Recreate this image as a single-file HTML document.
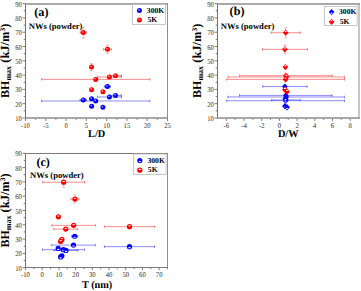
<!DOCTYPE html><html><head><meta charset="utf-8"><style>html,body{margin:0;padding:0;background:#fff;width:361px;height:291px;overflow:hidden}svg{display:block}text{font-family:"Liberation Serif", serif;text-rendering:geometricPrecision}.tl{font-size:7.4px;fill:#2a2a2a}.yl{font-size:12px;font-weight:bold;fill:#000}.yl .sub{font-size:8px}.yl .sup{font-size:7.3px}.yl .ku{font-size:12.5px}.xl{font-size:10.3px;font-weight:bold;fill:#000}.pl{font-size:12.2px;font-weight:bold;fill:#000}.nw{font-size:8.6px;font-weight:bold;fill:#000}.lg{font-size:7.7px;font-weight:bold;fill:#000}</style></head><body><svg width="361" height="291" viewBox="0 0 361 291">
<path d="M25.5 3.3V118.7" stroke="#707070" stroke-width="1"/>
<path d="M167.5 3.3V118.7" stroke="#909090" stroke-width="1"/>
<path d="M25 4H168" stroke="#8c8c8c" stroke-width="1.4"/>
<path d="M25 118H168" stroke="#8c8c8c" stroke-width="1.4"/>
<path d="M22.6 118H25M22.6 103.7H25M22.6 89.4H25M22.6 75.1H25M22.6 60.8H25M22.6 46.5H25M22.6 32.2H25M22.6 17.9H25M22.6 3.6H25M23.7 110.85H25M23.7 96.55H25M23.7 82.25H25M23.7 67.95H25M23.7 53.65H25M23.7 39.35H25M23.7 25.05H25M23.7 10.75H25" stroke="#7a7a7a" stroke-width="1" fill="none"/>
<path d="M25.5 118.7V120.9M45.79 118.7V120.9M66.07 118.7V120.9M86.36 118.7V120.9M106.64 118.7V120.9M126.93 118.7V120.9M147.21 118.7V120.9M167.5 118.7V120.9M35.64 118.7V119.9M55.93 118.7V119.9M76.21 118.7V119.9M96.5 118.7V119.9M116.79 118.7V119.9M137.07 118.7V119.9M157.36 118.7V119.9" stroke="#7a7a7a" stroke-width="1" fill="none"/>
<text transform="translate(21.9,121) scale(0.9,1)" text-anchor="end" class="tl">10</text>
<text transform="translate(21.9,106.7) scale(0.9,1)" text-anchor="end" class="tl">20</text>
<text transform="translate(21.9,92.4) scale(0.9,1)" text-anchor="end" class="tl">30</text>
<text transform="translate(21.9,78.1) scale(0.9,1)" text-anchor="end" class="tl">40</text>
<text transform="translate(21.9,63.8) scale(0.9,1)" text-anchor="end" class="tl">50</text>
<text transform="translate(21.9,49.5) scale(0.9,1)" text-anchor="end" class="tl">60</text>
<text transform="translate(21.9,35.2) scale(0.9,1)" text-anchor="end" class="tl">70</text>
<text transform="translate(21.9,20.9) scale(0.9,1)" text-anchor="end" class="tl">80</text>
<text transform="translate(21.9,6.6) scale(0.9,1)" text-anchor="end" class="tl">90</text>
<text transform="translate(25.5,127.5) scale(0.9,1)" text-anchor="middle" class="tl">-10</text>
<text transform="translate(45.79,127.5) scale(0.9,1)" text-anchor="middle" class="tl">-5</text>
<text transform="translate(66.07,127.5) scale(0.9,1)" text-anchor="middle" class="tl">0</text>
<text transform="translate(86.36,127.5) scale(0.9,1)" text-anchor="middle" class="tl">5</text>
<text transform="translate(106.64,127.5) scale(0.9,1)" text-anchor="middle" class="tl">10</text>
<text transform="translate(126.93,127.5) scale(0.9,1)" text-anchor="middle" class="tl">15</text>
<text transform="translate(147.21,127.5) scale(0.9,1)" text-anchor="middle" class="tl">20</text>
<text transform="translate(167.5,127.5) scale(0.9,1)" text-anchor="middle" class="tl">25</text>
<text transform="translate(9,60.8) rotate(-90)" text-anchor="middle" class="yl">BH<tspan class="sub" dy="2.2">max</tspan><tspan dy="-2.2" class="ku"> (kJ/m</tspan><tspan class="sup" dy="-4.2">3</tspan><tspan dy="4.2" class="ku">)</tspan></text>
<text x="96.7" y="137.0" text-anchor="middle" class="xl">L/D</text>
<text x="34.3" y="16.1" class="pl">(a)</text>
<text x="28.7" y="28.8" class="nw">NWs (powder)</text>
<path d="M80.2 32.56H86.4M80.2 31.26V33.86M86.4 31.26V33.86" stroke="#ff0000" stroke-width="1.0" stroke-opacity="0.45" fill="none"/>
<path d="M83.3 27.16V37.96M82 27.16H84.6M82 37.96H84.6" stroke="#ff0000" stroke-width="1.0" stroke-opacity="0.3" fill="none"/>
<path d="M91.5 63.59V70.59M90.2 63.59H92.8M90.2 70.59H92.8" stroke="#ff0000" stroke-width="1.0" stroke-opacity="0.3" fill="none"/>
<path d="M41.55 79.39H149.85M41.55 78.09V80.69M149.85 78.09V80.69" stroke="#ff0000" stroke-width="1.0" stroke-opacity="0.45" fill="none"/>
<path d="M103.6 49.36H111.3M103.6 48.06V50.66M111.3 48.06V50.66" stroke="#ff0000" stroke-width="1.0" stroke-opacity="0.45" fill="none"/>
<path d="M107.45 45.26V53.46M106.15 45.26H108.75M106.15 53.46H108.75" stroke="#ff0000" stroke-width="1.0" stroke-opacity="0.3" fill="none"/>
<path d="M97.3 76.96H121.5M97.3 75.66V78.26M121.5 75.66V78.26" stroke="#ff0000" stroke-width="1.0" stroke-opacity="0.45" fill="none"/>
<path d="M109.7 75.67H121.3M109.7 74.37V76.97M121.3 74.37V76.97" stroke="#ff0000" stroke-width="1.0" stroke-opacity="0.45" fill="none"/>
<path d="M80 99.98H86.6M80 98.68V101.28M86.6 98.68V101.28" stroke="#0000ff" stroke-width="1.0" stroke-opacity="0.45" fill="none"/>
<path d="M41.55 100.98H149.85M41.55 99.68V102.28M149.85 99.68V102.28" stroke="#0000ff" stroke-width="1.0" stroke-opacity="0.45" fill="none"/>
<path d="M104.3 86.54H110.5M104.3 85.24V87.84M110.5 85.24V87.84" stroke="#0000ff" stroke-width="1.0" stroke-opacity="0.45" fill="none"/>
<path d="M97.3 96.98H121.5M97.3 95.68V98.28M121.5 95.68V98.28" stroke="#0000ff" stroke-width="1.0" stroke-opacity="0.45" fill="none"/>
<path d="M109.7 95.41H121.3M109.7 94.11V96.71M121.3 94.11V96.71" stroke="#0000ff" stroke-width="1.0" stroke-opacity="0.45" fill="none"/>
<circle cx="83.3" cy="99.98" r="2.5" fill="#0000ff"/>
<circle cx="82.8" cy="99.38" r="0.8" fill="#fff" fill-opacity="0.7"/>
<circle cx="91.6" cy="98.69" r="2.5" fill="#0000ff"/>
<circle cx="91.1" cy="98.09" r="0.8" fill="#fff" fill-opacity="0.7"/>
<circle cx="91.6" cy="106.13" r="2.5" fill="#0000ff"/>
<circle cx="91.1" cy="105.53" r="0.8" fill="#fff" fill-opacity="0.7"/>
<circle cx="95.7" cy="100.98" r="2.5" fill="#0000ff"/>
<circle cx="95.2" cy="100.38" r="0.8" fill="#fff" fill-opacity="0.7"/>
<circle cx="102.9" cy="107.28" r="2.5" fill="#0000ff"/>
<circle cx="102.4" cy="106.68" r="0.8" fill="#fff" fill-opacity="0.7"/>
<circle cx="107.4" cy="86.54" r="2.5" fill="#0000ff"/>
<circle cx="106.9" cy="85.94" r="0.8" fill="#fff" fill-opacity="0.7"/>
<circle cx="109.4" cy="96.98" r="2.5" fill="#0000ff"/>
<circle cx="108.9" cy="96.38" r="0.8" fill="#fff" fill-opacity="0.7"/>
<circle cx="115.5" cy="95.41" r="2.5" fill="#0000ff"/>
<circle cx="115" cy="94.81" r="0.8" fill="#fff" fill-opacity="0.7"/>
<circle cx="83.3" cy="32.56" r="2.5" fill="#ff0000"/>
<circle cx="82.8" cy="31.96" r="0.8" fill="#fff" fill-opacity="0.7"/>
<circle cx="91.5" cy="67.09" r="2.5" fill="#ff0000"/>
<circle cx="91" cy="66.49" r="0.8" fill="#fff" fill-opacity="0.7"/>
<circle cx="91.6" cy="89.69" r="2.5" fill="#ff0000"/>
<circle cx="91.1" cy="89.09" r="0.8" fill="#fff" fill-opacity="0.7"/>
<circle cx="95.7" cy="79.39" r="2.5" fill="#ff0000"/>
<circle cx="95.2" cy="78.79" r="0.8" fill="#fff" fill-opacity="0.7"/>
<circle cx="102.9" cy="91.69" r="2.5" fill="#ff0000"/>
<circle cx="102.4" cy="91.09" r="0.8" fill="#fff" fill-opacity="0.7"/>
<circle cx="107.45" cy="49.36" r="2.5" fill="#ff0000"/>
<circle cx="106.95" cy="48.76" r="0.8" fill="#fff" fill-opacity="0.7"/>
<circle cx="109.4" cy="76.96" r="2.5" fill="#ff0000"/>
<circle cx="108.9" cy="76.36" r="0.8" fill="#fff" fill-opacity="0.7"/>
<circle cx="115.5" cy="75.67" r="2.5" fill="#ff0000"/>
<circle cx="115" cy="75.07" r="0.8" fill="#fff" fill-opacity="0.7"/>
<rect x="132.5" y="4.5" width="33" height="20" fill="#fff" stroke="#bbb" stroke-width="0.8"/>
<circle cx="139.4" cy="10.5" r="2.5" fill="#0000ff"/>
<circle cx="138.9" cy="9.9" r="0.8" fill="#fff" fill-opacity="0.7"/>
<circle cx="139.4" cy="19.9" r="2.5" fill="#ff0000"/>
<circle cx="138.9" cy="19.3" r="0.8" fill="#fff" fill-opacity="0.7"/>
<text x="146.8" y="12.9" class="lg">300K</text><text x="147.5" y="22.3" class="lg">5K</text>
<path d="M217.5 3.3V118.7" stroke="#707070" stroke-width="1"/>
<path d="M359 3.3V118.7" stroke="#b0b0b0" stroke-width="1.4"/>
<path d="M217 4H359.7" stroke="#8c8c8c" stroke-width="1.4"/>
<path d="M217 118H359.7" stroke="#8c8c8c" stroke-width="1.4"/>
<path d="M214.6 118H217M214.6 103.7H217M214.6 89.4H217M214.6 75.1H217M214.6 60.8H217M214.6 46.5H217M214.6 32.2H217M214.6 17.9H217M214.6 3.6H217M215.7 110.85H217M215.7 96.55H217M215.7 82.25H217M215.7 67.95H217M215.7 53.65H217M215.7 39.35H217M215.7 25.05H217M215.7 10.75H217" stroke="#7a7a7a" stroke-width="1" fill="none"/>
<path d="M226.34 118.7V120.9M244.03 118.7V120.9M261.72 118.7V120.9M279.41 118.7V120.9M297.09 118.7V120.9M314.78 118.7V120.9M332.47 118.7V120.9M350.16 118.7V120.9M235.19 118.7V119.9M252.88 118.7V119.9M270.56 118.7V119.9M288.25 118.7V119.9M305.94 118.7V119.9M323.62 118.7V119.9M341.31 118.7V119.9" stroke="#7a7a7a" stroke-width="1" fill="none"/>
<text transform="translate(213.9,121) scale(0.9,1)" text-anchor="end" class="tl">10</text>
<text transform="translate(213.9,106.7) scale(0.9,1)" text-anchor="end" class="tl">20</text>
<text transform="translate(213.9,92.4) scale(0.9,1)" text-anchor="end" class="tl">30</text>
<text transform="translate(213.9,78.1) scale(0.9,1)" text-anchor="end" class="tl">40</text>
<text transform="translate(213.9,63.8) scale(0.9,1)" text-anchor="end" class="tl">50</text>
<text transform="translate(213.9,49.5) scale(0.9,1)" text-anchor="end" class="tl">60</text>
<text transform="translate(213.9,35.2) scale(0.9,1)" text-anchor="end" class="tl">70</text>
<text transform="translate(213.9,20.9) scale(0.9,1)" text-anchor="end" class="tl">80</text>
<text transform="translate(213.9,6.6) scale(0.9,1)" text-anchor="end" class="tl">90</text>
<text transform="translate(226.34,127.5) scale(0.9,1)" text-anchor="middle" class="tl">-6</text>
<text transform="translate(244.03,127.5) scale(0.9,1)" text-anchor="middle" class="tl">-4</text>
<text transform="translate(261.72,127.5) scale(0.9,1)" text-anchor="middle" class="tl">-2</text>
<text transform="translate(279.41,127.5) scale(0.9,1)" text-anchor="middle" class="tl">0</text>
<text transform="translate(297.09,127.5) scale(0.9,1)" text-anchor="middle" class="tl">2</text>
<text transform="translate(314.78,127.5) scale(0.9,1)" text-anchor="middle" class="tl">4</text>
<text transform="translate(332.47,127.5) scale(0.9,1)" text-anchor="middle" class="tl">6</text>
<text transform="translate(350.16,127.5) scale(0.9,1)" text-anchor="middle" class="tl">8</text>
<text transform="translate(201.2,60.8) rotate(-90)" text-anchor="middle" class="yl">BH<tspan class="sub" dy="2.2">max</tspan><tspan dy="-2.2" class="ku"> (kJ/m</tspan><tspan class="sup" dy="-4.2">3</tspan><tspan dy="4.2" class="ku">)</tspan></text>
<text x="288.2" y="137.0" text-anchor="middle" class="xl">D/W</text>
<text x="229.6" y="15.4" class="pl">(b)</text>
<text x="220.7" y="29" class="nw">NWs (powder)</text>
<path d="M271.05 32.7H300.35M271.05 31.4V34M300.35 31.4V34" stroke="#ff0000" stroke-width="1.0" stroke-opacity="0.45" fill="none"/>
<path d="M285.7 27.6V37.8M284.4 27.6H287M284.4 37.8H287" stroke="#ff0000" stroke-width="1.0" stroke-opacity="0.3" fill="none"/>
<path d="M262.4 49.36H307.4M262.4 48.06V50.66M307.4 48.06V50.66" stroke="#ff0000" stroke-width="1.0" stroke-opacity="0.45" fill="none"/>
<path d="M284.9 45.06V53.66M283.6 45.06H286.2M283.6 53.66H286.2" stroke="#ff0000" stroke-width="1.0" stroke-opacity="0.3" fill="none"/>
<path d="M239.6 75.67H332.2M239.6 74.37V76.97M332.2 74.37V76.97" stroke="#ff0000" stroke-width="1.0" stroke-opacity="0.45" fill="none"/>
<path d="M228.15 76.96H344.65M228.15 75.66V78.26M344.65 75.66V78.26" stroke="#ff0000" stroke-width="1.0" stroke-opacity="0.45" fill="none"/>
<path d="M226.7 79.39H344.5M226.7 78.09V80.69M344.5 78.09V80.69" stroke="#ff0000" stroke-width="1.0" stroke-opacity="0.45" fill="none"/>
<path d="M262.75 86.54H307.05M262.75 85.24V87.84M307.05 85.24V87.84" stroke="#0000ff" stroke-width="1.0" stroke-opacity="0.45" fill="none"/>
<path d="M239.5 95.41H332.1M239.5 94.11V96.71M332.1 94.11V96.71" stroke="#0000ff" stroke-width="1.0" stroke-opacity="0.45" fill="none"/>
<path d="M227.95 96.98H344.45M227.95 95.68V98.28M344.45 95.68V98.28" stroke="#0000ff" stroke-width="1.0" stroke-opacity="0.45" fill="none"/>
<path d="M271.7 99.98H300.1M271.7 98.68V101.28M300.1 98.68V101.28" stroke="#0000ff" stroke-width="1.0" stroke-opacity="0.45" fill="none"/>
<path d="M226.7 100.7H344.5M226.7 99.4V102M344.5 99.4V102" stroke="#0000ff" stroke-width="1.0" stroke-opacity="0.45" fill="none"/>
<path d="M284.9 83.39L287.75 86.54L284.9 89.69L282.05 86.54Z" fill="#0000ff"/>
<ellipse cx="284.9" cy="87.64" rx="0.95" ry="0.7" fill="#fff"/>
<path d="M285.8 92.26L288.65 95.41L285.8 98.56L282.95 95.41Z" fill="#0000ff"/>
<ellipse cx="285.8" cy="96.51" rx="0.95" ry="0.7" fill="#fff"/>
<path d="M286.2 93.83L289.05 96.98L286.2 100.13L283.35 96.98Z" fill="#0000ff"/>
<ellipse cx="286.2" cy="98.08" rx="0.95" ry="0.7" fill="#fff"/>
<path d="M285.9 96.83L288.75 99.98L285.9 103.13L283.05 99.98Z" fill="#0000ff"/>
<ellipse cx="285.9" cy="101.08" rx="0.95" ry="0.7" fill="#fff"/>
<path d="M285.6 97.55L288.45 100.7L285.6 103.85L282.75 100.7Z" fill="#0000ff"/>
<ellipse cx="285.6" cy="101.8" rx="0.95" ry="0.7" fill="#fff"/>
<path d="M285.4 95.54L288.25 98.69L285.4 101.84L282.55 98.69Z" fill="#0000ff"/>
<ellipse cx="285.4" cy="99.79" rx="0.95" ry="0.7" fill="#fff"/>
<path d="M284.9 102.98L287.75 106.13L284.9 109.28L282.05 106.13Z" fill="#0000ff"/>
<ellipse cx="284.9" cy="107.23" rx="0.95" ry="0.7" fill="#fff"/>
<path d="M287 104.12L289.85 107.28L287 110.43L284.15 107.28Z" fill="#0000ff"/>
<ellipse cx="287" cy="108.38" rx="0.95" ry="0.7" fill="#fff"/>
<path d="M285.7 29.55L288.55 32.7L285.7 35.85L282.85 32.7Z" fill="#ff0000"/>
<ellipse cx="285.7" cy="31.4" rx="0.95" ry="0.7" fill="#fff"/>
<path d="M284.9 46.21L287.75 49.36L284.9 52.51L282.05 49.36Z" fill="#ff0000"/>
<ellipse cx="284.9" cy="48.06" rx="0.95" ry="0.7" fill="#fff"/>
<path d="M285.4 63.94L288.25 67.09L285.4 70.24L282.55 67.09Z" fill="#ff0000"/>
<ellipse cx="285.4" cy="65.79" rx="0.95" ry="0.7" fill="#fff"/>
<path d="M285.9 72.52L288.75 75.67L285.9 78.82L283.05 75.67Z" fill="#ff0000"/>
<ellipse cx="285.9" cy="74.37" rx="0.95" ry="0.7" fill="#fff"/>
<path d="M286.4 73.81L289.25 76.96L286.4 80.11L283.55 76.96Z" fill="#ff0000"/>
<ellipse cx="286.4" cy="75.66" rx="0.95" ry="0.7" fill="#fff"/>
<path d="M285.6 76.24L288.45 79.39L285.6 82.54L282.75 79.39Z" fill="#ff0000"/>
<ellipse cx="285.6" cy="78.09" rx="0.95" ry="0.7" fill="#fff"/>
<path d="M284.9 86.54L287.75 89.69L284.9 92.84L282.05 89.69Z" fill="#ff0000"/>
<ellipse cx="284.9" cy="88.39" rx="0.95" ry="0.7" fill="#fff"/>
<path d="M287 88.54L289.85 91.69L287 94.84L284.15 91.69Z" fill="#ff0000"/>
<ellipse cx="287" cy="90.39" rx="0.95" ry="0.7" fill="#fff"/>
<rect x="324.5" y="6.5" width="32.6" height="19" fill="#fff" stroke="#bbb" stroke-width="0.8"/>
<path d="M331.6 8.95L334.45 12.1L331.6 15.25L328.75 12.1Z" fill="#0000ff"/>
<ellipse cx="331.6" cy="13.2" rx="0.95" ry="0.7" fill="#fff"/>
<path d="M331.6 18.65L334.45 21.8L331.6 24.95L328.75 21.8Z" fill="#ff0000"/>
<ellipse cx="331.6" cy="20.5" rx="0.95" ry="0.7" fill="#fff"/>
<text x="339" y="14.3" class="lg">300K</text><text x="339.7" y="24.2" class="lg">5K</text>
<path d="M25.5 153V268" stroke="#707070" stroke-width="1"/>
<path d="M167.5 153V268" stroke="#909090" stroke-width="1"/>
<path d="M25 153.5H168" stroke="#7a7a7a" stroke-width="1"/>
<path d="M25 267.5H168" stroke="#7a7a7a" stroke-width="1"/>
<path d="M22.6 267.7H25M22.6 253.4H25M22.6 239.1H25M22.6 224.8H25M22.6 210.5H25M22.6 196.2H25M22.6 181.9H25M22.6 167.6H25M22.6 153.3H25M23.7 260.55H25M23.7 246.25H25M23.7 231.95H25M23.7 217.65H25M23.7 203.35H25M23.7 189.05H25M23.7 174.75H25M23.7 160.45H25" stroke="#7a7a7a" stroke-width="1" fill="none"/>
<path d="M25.5 268V270.2M42.21 268V270.2M58.91 268V270.2M75.62 268V270.2M92.32 268V270.2M109.03 268V270.2M125.74 268V270.2M142.44 268V270.2M159.15 268V270.2M33.85 268V269.2M50.56 268V269.2M67.26 268V269.2M83.97 268V269.2M100.68 268V269.2M117.38 268V269.2M134.09 268V269.2M150.79 268V269.2M167.5 268V269.2" stroke="#7a7a7a" stroke-width="1" fill="none"/>
<text transform="translate(21.9,270.7) scale(0.9,1)" text-anchor="end" class="tl">10</text>
<text transform="translate(21.9,256.4) scale(0.9,1)" text-anchor="end" class="tl">20</text>
<text transform="translate(21.9,242.1) scale(0.9,1)" text-anchor="end" class="tl">30</text>
<text transform="translate(21.9,227.8) scale(0.9,1)" text-anchor="end" class="tl">40</text>
<text transform="translate(21.9,213.5) scale(0.9,1)" text-anchor="end" class="tl">50</text>
<text transform="translate(21.9,199.2) scale(0.9,1)" text-anchor="end" class="tl">60</text>
<text transform="translate(21.9,184.9) scale(0.9,1)" text-anchor="end" class="tl">70</text>
<text transform="translate(21.9,170.6) scale(0.9,1)" text-anchor="end" class="tl">80</text>
<text transform="translate(21.9,156.3) scale(0.9,1)" text-anchor="end" class="tl">90</text>
<text transform="translate(25.5,277.2) scale(0.9,1)" text-anchor="middle" class="tl">-10</text>
<text transform="translate(42.21,277.2) scale(0.9,1)" text-anchor="middle" class="tl">0</text>
<text transform="translate(58.91,277.2) scale(0.9,1)" text-anchor="middle" class="tl">10</text>
<text transform="translate(75.62,277.2) scale(0.9,1)" text-anchor="middle" class="tl">20</text>
<text transform="translate(92.32,277.2) scale(0.9,1)" text-anchor="middle" class="tl">30</text>
<text transform="translate(109.03,277.2) scale(0.9,1)" text-anchor="middle" class="tl">40</text>
<text transform="translate(125.74,277.2) scale(0.9,1)" text-anchor="middle" class="tl">50</text>
<text transform="translate(142.44,277.2) scale(0.9,1)" text-anchor="middle" class="tl">60</text>
<text transform="translate(159.15,277.2) scale(0.9,1)" text-anchor="middle" class="tl">70</text>
<text transform="translate(9,210.5) rotate(-90)" text-anchor="middle" class="yl">BH<tspan class="sub" dy="2.2">max</tspan><tspan dy="-2.2" class="ku"> (kJ/m</tspan><tspan class="sup" dy="-4.2">3</tspan><tspan dy="4.2" class="ku">)</tspan></text>
<text x="97.1" y="287.6" text-anchor="middle" class="xl">T (nm)</text>
<text x="36.4" y="165.5" class="pl">(c)</text>
<text x="30" y="177.5" class="nw">NWs (powder)</text>
<path d="M42.6 182.19H84.6M42.6 180.89V183.49M84.6 180.89V183.49" stroke="#ff0000" stroke-width="1.0" stroke-opacity="0.45" fill="none"/>
<path d="M63.6 177.19V187.19M62.3 177.19H64.9M62.3 187.19H64.9" stroke="#ff0000" stroke-width="1.0" stroke-opacity="0.3" fill="none"/>
<path d="M70.9 199.06H78.9M70.9 197.76V200.36M78.9 197.76V200.36" stroke="#ff0000" stroke-width="1.0" stroke-opacity="0.45" fill="none"/>
<path d="M74.9 195.06V203.06M73.6 195.06H76.2M73.6 203.06H76.2" stroke="#ff0000" stroke-width="1.0" stroke-opacity="0.3" fill="none"/>
<path d="M51.8 225.37H95.4M51.8 224.07V226.67M95.4 224.07V226.67" stroke="#ff0000" stroke-width="1.0" stroke-opacity="0.45" fill="none"/>
<path d="M53.75 229.09H77.75M53.75 227.79V230.39M77.75 227.79V230.39" stroke="#ff0000" stroke-width="1.0" stroke-opacity="0.45" fill="none"/>
<path d="M104.4 226.66H154.6M104.4 225.36V227.96M154.6 225.36V227.96" stroke="#ff0000" stroke-width="1.0" stroke-opacity="0.45" fill="none"/>
<path d="M71.6 236.24H77.8M71.6 234.94V237.54M77.8 234.94V237.54" stroke="#0000ff" stroke-width="1.0" stroke-opacity="0.45" fill="none"/>
<path d="M51.7 245.11H95.3M51.7 243.81V246.41M95.3 243.81V246.41" stroke="#0000ff" stroke-width="1.0" stroke-opacity="0.45" fill="none"/>
<path d="M42.4 249.68H84.4M42.4 248.38V250.98M84.4 248.38V250.98" stroke="#0000ff" stroke-width="1.0" stroke-opacity="0.45" fill="none"/>
<path d="M54 250.4H78M54 249.1V251.7M78 249.1V251.7" stroke="#0000ff" stroke-width="1.0" stroke-opacity="0.45" fill="none"/>
<path d="M104.4 246.68H154.6M104.4 245.38V247.98M154.6 245.38V247.98" stroke="#0000ff" stroke-width="1.0" stroke-opacity="0.45" fill="none"/>
<circle cx="74.7" cy="236.24" r="2.6" fill="#0000ff"/>
<ellipse cx="74.7" cy="237.24" rx="1.25" ry="0.6" fill="#fff"/>
<circle cx="73.5" cy="245.11" r="2.6" fill="#0000ff"/>
<ellipse cx="73.5" cy="246.11" rx="1.25" ry="0.6" fill="#fff"/>
<circle cx="58.2" cy="248.39" r="2.6" fill="#0000ff"/>
<ellipse cx="58.2" cy="249.39" rx="1.25" ry="0.6" fill="#fff"/>
<circle cx="63.4" cy="249.68" r="2.6" fill="#0000ff"/>
<ellipse cx="63.4" cy="250.68" rx="1.25" ry="0.6" fill="#fff"/>
<circle cx="66" cy="250.4" r="2.6" fill="#0000ff"/>
<ellipse cx="66" cy="251.4" rx="1.25" ry="0.6" fill="#fff"/>
<circle cx="61.9" cy="255.83" r="2.6" fill="#0000ff"/>
<ellipse cx="61.9" cy="256.83" rx="1.25" ry="0.6" fill="#fff"/>
<circle cx="60.6" cy="256.97" r="2.6" fill="#0000ff"/>
<ellipse cx="60.6" cy="257.97" rx="1.25" ry="0.6" fill="#fff"/>
<circle cx="129.5" cy="246.68" r="2.6" fill="#0000ff"/>
<ellipse cx="129.5" cy="247.68" rx="1.25" ry="0.6" fill="#fff"/>
<circle cx="63.6" cy="182.19" r="2.6" fill="#ff0000"/>
<ellipse cx="63.6" cy="181.39" rx="1.25" ry="0.6" fill="#fff"/>
<circle cx="74.9" cy="199.06" r="2.6" fill="#ff0000"/>
<ellipse cx="74.9" cy="198.26" rx="1.25" ry="0.6" fill="#fff"/>
<circle cx="58.4" cy="216.79" r="2.6" fill="#ff0000"/>
<ellipse cx="58.4" cy="215.99" rx="1.25" ry="0.6" fill="#fff"/>
<circle cx="73.6" cy="225.37" r="2.6" fill="#ff0000"/>
<ellipse cx="73.6" cy="224.57" rx="1.25" ry="0.6" fill="#fff"/>
<circle cx="65.75" cy="229.09" r="2.6" fill="#ff0000"/>
<ellipse cx="65.75" cy="228.29" rx="1.25" ry="0.6" fill="#fff"/>
<circle cx="61.9" cy="239.39" r="2.6" fill="#ff0000"/>
<ellipse cx="61.9" cy="238.59" rx="1.25" ry="0.6" fill="#fff"/>
<circle cx="60.6" cy="241.39" r="2.6" fill="#ff0000"/>
<ellipse cx="60.6" cy="240.59" rx="1.25" ry="0.6" fill="#fff"/>
<circle cx="129.5" cy="226.66" r="2.6" fill="#ff0000"/>
<ellipse cx="129.5" cy="225.86" rx="1.25" ry="0.6" fill="#fff"/>
<rect x="133.5" y="154" width="32.6" height="20.5" fill="#fff" stroke="#bbb" stroke-width="0.8"/>
<circle cx="139.8" cy="160.5" r="2.6" fill="#0000ff"/>
<ellipse cx="139.8" cy="161.5" rx="1.25" ry="0.6" fill="#fff"/>
<circle cx="139.8" cy="170.2" r="2.6" fill="#ff0000"/>
<ellipse cx="139.8" cy="169.4" rx="1.25" ry="0.6" fill="#fff"/>
<text x="147.4" y="162.5" class="lg">300K</text><text x="147.8" y="172.1" class="lg">5K</text>
</svg></body></html>
